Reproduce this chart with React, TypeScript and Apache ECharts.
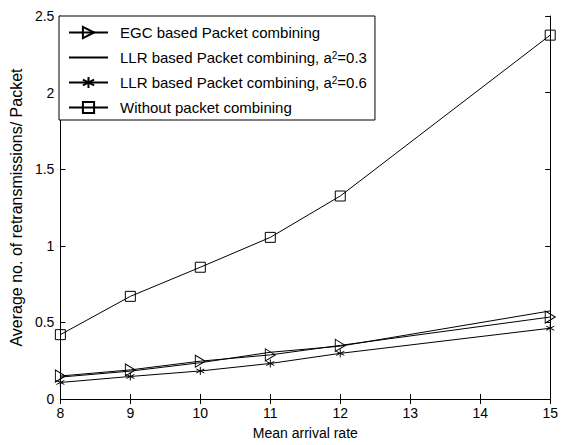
import React, { useEffect, useRef } from "react";
import * as echarts from "echarts";

const xValues = [8, 9, 10, 11, 12, 15];
const egc = [0.15, 0.19, 0.247, 0.288, 0.35, 0.535];
const llr03 = [0.143, 0.182, 0.237, 0.305, 0.345, 0.575];
const llr06 = [0.108, 0.147, 0.183, 0.232, 0.298, 0.462];
const withoutPC = [0.42, 0.67, 0.86, 1.055, 1.325, 2.375];

const names = [
  "EGC based Packet combining",
  "LLR based Packet combining, a2=0.3",
  "LLR based Packet combining, a2=0.6",
  "Without packet combining",
];

const FONT = "'Liberation Sans', Arial, sans-serif";

const triRight = "path://M0,0L10,6L0,12Z";
const asterisk = "path://M5,0L5,10M0.7,2.5L9.3,7.5M0.7,7.5L9.3,2.5";
const square = "path://M0,0L10,0L10,10L0,10Z";

function pairs(ys: number[]) {
  return xValues.map((x, i) => [x, ys[i]]);
}

export default function App() {
  const ref = useRef<HTMLDivElement>(null);
  useEffect(() => {
    document.body.style.margin = "0";
    const chart = echarts.init(ref.current!, undefined, { renderer: "svg" });
    const axisCommon = {
      axisLine: { show: true, lineStyle: { color: "#000", width: 1 } },
      axisTick: { show: true, inside: true, length: 5, lineStyle: { color: "#000" } },
      splitLine: { show: false },
    };
    const hollow = { color: "rgba(255,255,255,0)", borderColor: "#000", borderWidth: 1 };
    chart.setOption({
      animation: false,
      backgroundColor: "#fff",
      textStyle: { fontFamily: FONT },
      grid: { left: 59, right: 9, top: 16, bottom: 38, containLabel: false },
      legend: {
        orient: "vertical",
        left: 59,
        top: 16,
        backgroundColor: "#fff",
        borderColor: "#000",
        borderWidth: 1,
        borderRadius: 0,
        padding: [9, 8, 5, 9],
        itemGap: 10,
        itemWidth: 39,
        itemHeight: 14,
        data: names,
        formatter: (n: string) => {
          const m = n.match(/^(.*a)2(=.*)$/);
          if (m) return `{n|${m[1]}}{s|2}{n|${m[2]}}`;
          return `{n|${n}}`;
        },
        textStyle: {
          color: "#000",
          fontSize: 15,
          fontFamily: FONT,
          padding: [0, 0, 0, 7],
          rich: {
            n: { fontSize: 15, fontFamily: FONT, color: "#000" },
            s: { fontSize: 10, fontFamily: FONT, color: "#000", verticalAlign: "top", padding: [0, 0, 4, 0] },
          },
        },
      },
      xAxis: [
        {
          type: "value",
          min: 8,
          max: 15,
          interval: 1,
          position: "bottom",
          name: "Mean arrival rate",
          nameLocation: "middle",
          nameGap: 27,
          nameTextStyle: { color: "#000", fontSize: 14, fontFamily: FONT },
          axisLabel: { color: "#000", fontSize: 14, fontFamily: FONT, margin: 7 },
          ...axisCommon,
        },
        {
          type: "value",
          min: 8,
          max: 15,
          interval: 1,
          position: "top",
          axisLabel: { show: false },
          ...axisCommon,
        },
      ],
      yAxis: [
        {
          type: "value",
          min: 0,
          max: 2.5,
          interval: 0.5,
          position: "left",
          name: "Average no. of retransmissions/ Packet",
          nameLocation: "middle",
          nameGap: 35,
          nameTextStyle: { color: "#000", fontSize: 16, fontFamily: FONT },
          axisLabel: { color: "#000", fontSize: 14, fontFamily: FONT, margin: 6 },
          ...axisCommon,
        },
        {
          type: "value",
          min: 0,
          max: 2.5,
          interval: 0.5,
          position: "right",
          axisLabel: { show: false },
          ...axisCommon,
        },
      ],
      series: [
        {
          name: names[0],
          type: "line",
          data: pairs(egc),
          symbol: triRight,
          symbolSize: [10, 12],
          lineStyle: { color: "#000", width: 1 },
          itemStyle: hollow,
        },
        {
          name: names[1],
          type: "line",
          data: pairs(llr03),
          symbol: "circle",
          showSymbol: false,
          lineStyle: { color: "#000", width: 1 },
          itemStyle: { color: "rgba(0,0,0,0)", borderWidth: 0 },
        },
        {
          name: names[2],
          type: "line",
          data: pairs(llr06),
          symbol: asterisk,
          symbolSize: 8,
          lineStyle: { color: "#000", width: 1 },
          itemStyle: { color: "rgba(0,0,0,0)", borderColor: "#000", borderWidth: 1 },
        },
        {
          name: names[3],
          type: "line",
          data: pairs(withoutPC),
          symbol: square,
          symbolSize: 10,
          lineStyle: { color: "#000", width: 1 },
          itemStyle: hollow,
        },
      ],
    });
    return () => chart.dispose();
  }, []);
  return <div ref={ref} style={{ width: 561, height: 445 }} />;
}
